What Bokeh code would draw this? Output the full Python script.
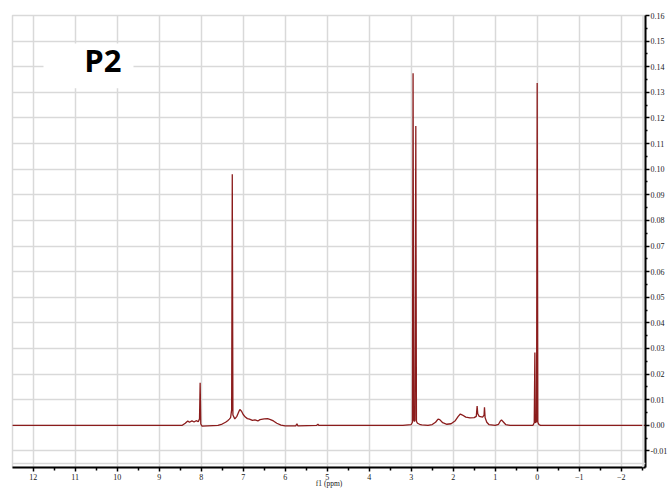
from bokeh.plotting import figure
from bokeh.models import (Range1d, LinearAxis, FixedTicker, PrintfTickFormatter,
                          BoxAnnotation, Label, Span, ColumnDataSource)
from bokeh.embed import file_html
from bokeh.resources import INLINE

# 1H NMR trace, f1 in ppm and intensity (a.u.)
ppm = [12.5, 8.45, 8.38, 8.32, 8.28, 8.22, 8.17, 8.12, 8.07, 8.04, 8.025, 8.01, 7.98,
       7.6, 7.5, 7.42, 7.37, 7.33, 7.30, 7.275, 7.26, 7.245, 7.2, 7.15, 7.1, 7.08,
       7.04, 7.0, 6.95, 6.9, 6.85, 6.78, 6.72, 6.65, 6.6, 6.5, 6.42, 6.35, 6.28,
       6.2, 6.1, 6.0, 5.75, 5.72, 5.70, 5.25, 5.22, 5.2, 3.2, 3.0, 2.97, 2.955,
       2.94, 2.925, 2.91, 2.89, 2.875, 2.85, 2.8, 2.75, 2.6, 2.5, 2.42, 2.36, 2.32,
       2.25, 2.15, 2.05, 1.95, 1.88, 1.83, 1.78, 1.7, 1.6, 1.5, 1.45, 1.43, 1.415,
       1.38, 1.3, 1.265, 1.255, 1.24, 1.2, 1.15, 1.0, 0.92, 0.88, 0.85, 0.8, 0.75,
       0.65, 0.1, 0.07, 0.055, 0.045, 0.015, 0.0, -0.015, -0.04, -0.08, -2.6]
intensity = [0.0, 0.0, 0.0008, 0.0017, 0.0012, 0.0017, 0.0013, 0.0018, 0.0014, 0.0025,
             0.0166, 0.0005, -0.0003, 0.0, 0.0005, 0.0012, 0.0018, 0.0024, 0.003,
             0.006, 0.098, 0.004, 0.0025, 0.0035, 0.0055, 0.0062, 0.0055, 0.0042,
             0.0032, 0.0026, 0.0024, 0.0019, 0.0021, 0.0017, 0.0022, 0.0025, 0.0026,
             0.0022, 0.0017, 0.0008, 0.0001, -0.0002, -0.0002, 0.0006, -0.0002, 0.0,
             0.0004, 0.0, 0.0, 0.0003, 0.0012, 0.1375, 0.002, 0.0015, 0.002, 0.1169,
             0.0015, 0.0008, 0.0004, 0.0002, 0.0, 0.0003, 0.0012, 0.0024, 0.0022,
             0.001, 0.0004, 0.0006, 0.0018, 0.0035, 0.0044, 0.004, 0.0032, 0.0029,
             0.003, 0.0035, 0.0075, 0.0045, 0.0035, 0.0032, 0.004, 0.007, 0.003,
             0.0012, 0.0003, 0.0, 0.0004, 0.0016, 0.0021, 0.0012, 0.0003, 0.0, 0.0,
             0.001, 0.0284, 0.001, 0.0015, 0.1336, 0.0012, 0.0003, 0.0, 0.0]

x_ticks = [12, 11, 10, 9, 8, 7, 6, 5, 4, 3, 2, 1, 0, -1, -2]
y_ticks = [-0.01, 0.0, 0.01, 0.02, 0.03, 0.04, 0.05, 0.06, 0.07, 0.08, 0.09,
           0.10, 0.11, 0.12, 0.13, 0.14, 0.15, 0.16]
x_title = "f1 (ppm)"
sample_name = "P2"

GRID = "#d9d9d9"
TRACE = "#8b1c1c"
TICK_FONT = "Liberation Serif"
TICK_COLOR = "#202020"

p = figure(width=671, height=490, output_backend="svg", toolbar_location=None,
           x_range=Range1d(12.493, -2.579), y_range=Range1d(-0.01648, 0.16),
           y_axis_location=None, min_border_left=12, min_border_top=15,
           min_border_right=26, min_border_bottom=22)
p.outline_line_color = GRID
p.outline_line_width = 1.5
p.background_fill_color = "white"
p.border_fill_color = "white"

# bottom ppm axis, title pulled up close under the tick labels
xa = p.xaxis[0]
xa.ticker = FixedTicker(ticks=x_ticks, minor_ticks=[v + 0.5 for v in range(-3, 13)])
xa.axis_label = x_title
xa.axis_label_text_font = TICK_FONT
xa.axis_label_text_font_style = "normal"
xa.axis_label_text_font_size = "7.5px"
xa.axis_label_text_color = TICK_COLOR
xa.axis_label_standoff = -4
xa.major_label_text_font = TICK_FONT
xa.major_label_text_font_size = "8px"
xa.major_label_text_color = TICK_COLOR
xa.major_label_standoff = 2
xa.axis_line_color = "black"
xa.axis_line_width = 2
xa.major_tick_in = 0
xa.major_tick_out = 4
xa.minor_tick_in = 0
xa.minor_tick_out = 3
xa.major_tick_line_width = 1.5
xa.minor_tick_line_width = 1.5

# intensity axis on the right
ya = LinearAxis(ticker=FixedTicker(ticks=y_ticks,
                                   minor_ticks=[round(t + 0.005, 3) for t in y_ticks]),
                formatter=PrintfTickFormatter(format="%.2f"))
ya.major_label_text_font = TICK_FONT
ya.major_label_text_font_size = "8px"
ya.major_label_text_color = TICK_COLOR
ya.major_label_standoff = 1
ya.axis_line_color = "black"
ya.axis_line_width = 2
ya.major_tick_in = 0
ya.major_tick_out = 4
ya.minor_tick_in = 0
ya.minor_tick_out = 2
ya.major_tick_line_width = 1.5
ya.minor_tick_line_width = 1.5
p.add_layout(ya, "right")

p.xgrid.ticker = FixedTicker(ticks=x_ticks)
p.xgrid.grid_line_color = GRID
p.xgrid.grid_line_width = 1.5
p.ygrid.grid_line_color = GRID
p.ygrid.grid_line_width = 1.5
p.ygrid.ticker = FixedTicker(ticks=y_ticks)

# inner frame edges
p.add_layout(Span(location=-0.0149, dimension="width", line_color=GRID, line_width=1.5))
p.add_layout(Span(location=-2.52, dimension="height", line_color=GRID, line_width=1.5))

src = ColumnDataSource(data=dict(ppm=ppm, intensity=intensity))
p.line("ppm", "intensity", source=src, line_color=TRACE, line_width=1.3)

# sample tag
p.add_layout(BoxAnnotation(left=11.755, right=9.612, top=0.1491, bottom=0.1316,
                           fill_color="white", fill_alpha=1.0, line_color=None))
p.add_layout(Label(x=10.34, y=0.1425, text=sample_name, text_font="Open Sans",
                   text_font_style="bold", text_font_size="31px", text_color="black",
                   text_align="center", text_baseline="middle"))

open("out.html", "w").write(file_html(p, INLINE))
